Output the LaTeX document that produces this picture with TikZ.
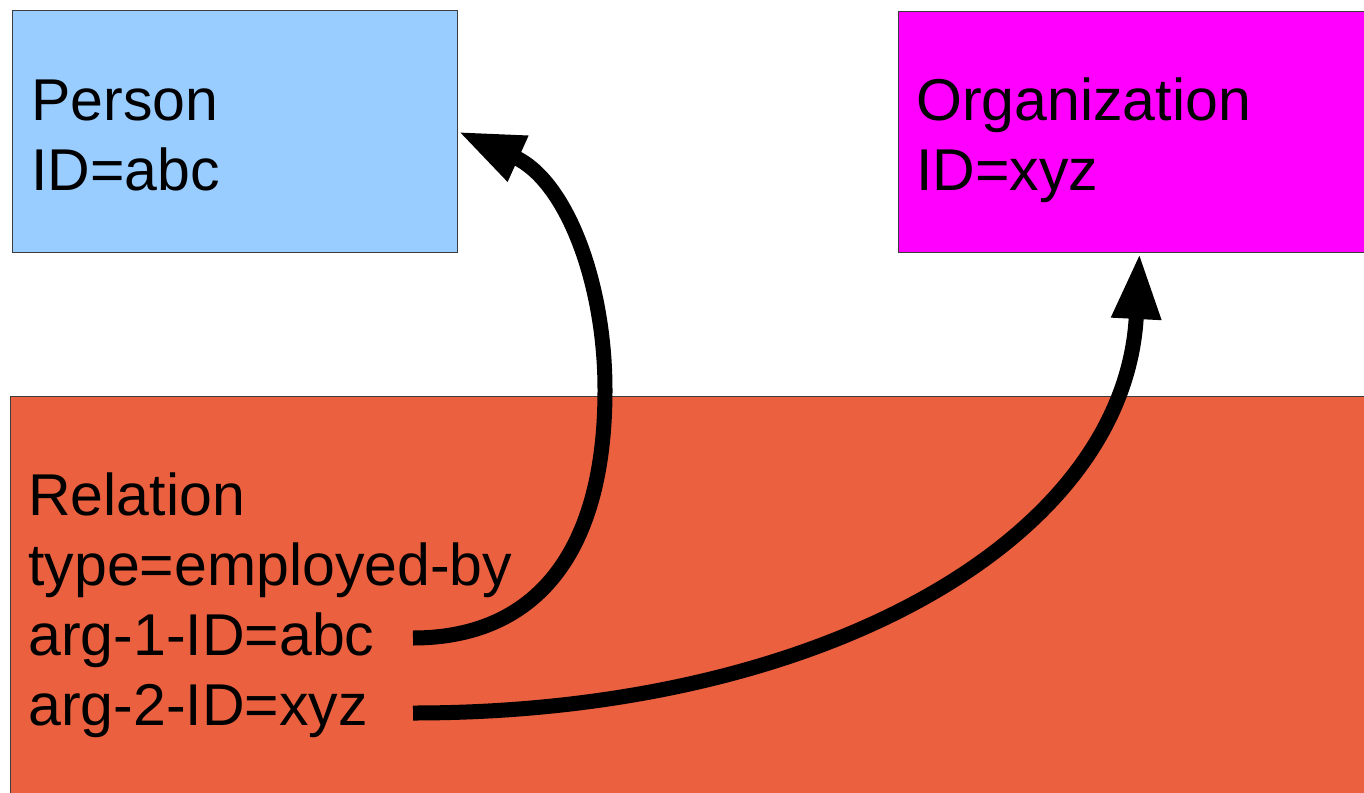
\documentclass[tikz,border=0pt]{standalone}
\usepackage{fontspec}
\setmainfont{Liberation Sans}
\usetikzlibrary{arrows.meta}
\definecolor{azulclaro}{RGB}{153, 204, 255}
\definecolor{rosa}{RGB}{255, 0, 255}
\definecolor{laranja}{RGB}{235, 97, 63}
\definecolor{borda}{RGB}{60, 60, 60}

\begin{document}
\begin{tikzpicture}[x=0.5pt, y=-0.5pt,
    caixa/.style={draw=borda, line width=0.5pt, rectangle, inner sep=0pt, anchor=north west},
    rotulo/.style={anchor=base west, inner sep=0pt, font=\fontsize{29.5}{35}\selectfont},
    seta/.style={line width=7.5pt, -{Triangle[length=33pt, width=23pt]}}]
    \useasboundingbox (0,0) rectangle (1364,792);

    \begin{scope}
        \clip (0,0) rectangle (1364,792);
        % Caixas (as da direita passam da borda)
        \node[caixa, fill=azulclaro, minimum width=222.5pt, minimum height=121pt] (person) at (12,10) {};
        \node[caixa, fill=rosa, minimum width=241pt, minimum height=120.5pt] (org) at (898,11) {};
        \node[caixa, fill=laranja, minimum width=685pt, minimum height=205pt] (relation) at (10,396) {};
    \end{scope}

    % Textos das entidades
    \node[rotulo] (tperson) at (31,120) {Person};
    \node[rotulo] (idperson) at (31,190) {ID=abc};
    \node[rotulo] (torg) at (916,120) {Organization};
    \node[rotulo] (idorg) at (916,190) {ID=xyz};

    % Textos da relação
    \node[rotulo] (trel) at (28,515) {Relation};
    \node[rotulo] (tipo) at (28,585) {type=employed-by};
    \node[rotulo] (arg1) at (28,655) {arg-1-ID=abc};
    \node[rotulo] (arg2) at (28,725) {arg-2-ID=xyz};

    % Setas dos argumentos
    \coordinate (s1) at (413,638);
    \coordinate (s2) at (413,713);
    \draw[seta] (s1) .. controls (530,638) and (605,560) .. (605,390)
        .. controls (605,280) and (565,180) .. (person.east);
    \draw[seta] (s2) .. controls (820,713) and (1125,540) .. (org.south);
\end{tikzpicture}
\end{document}
